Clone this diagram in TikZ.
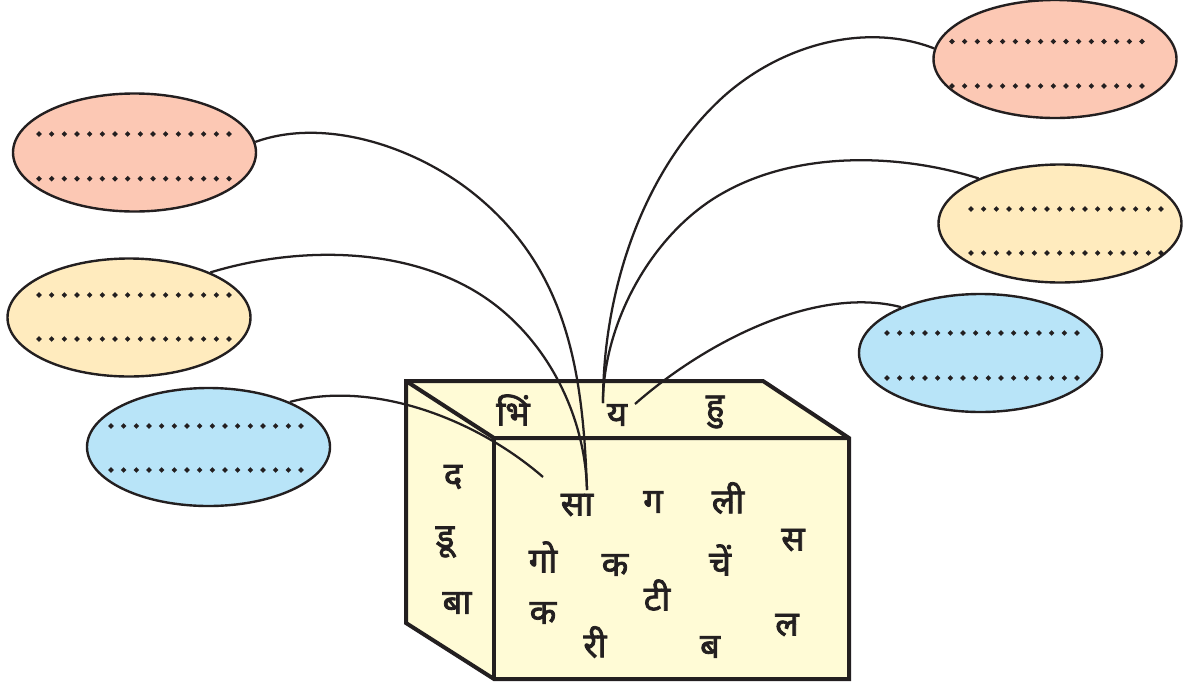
\documentclass[tikz,border=0pt]{standalone}
\usepackage{fontspec}
\newfontfamily\deva[Script=Devanagari, FakeBold=2.2]{Noto Sans}
\usetikzlibrary{shapes.geometric}
\definecolor{salmon}{HTML}{FCC8B4}
\definecolor{cream}{HTML}{FFEBBE}
\definecolor{sky}{HTML}{B8E4F8}
\definecolor{boxfill}{HTML}{FFFBD6}
\definecolor{ink}{HTML}{231F20}
\tikzset{
  bubble/.style={ellipse, draw=ink, line width=1.8pt, minimum width=182.25pt, minimum height=88.5pt, inner sep=0pt},
  boxline/.style={draw=ink, line width=3pt, line join=miter},
  link/.style={draw=ink, line width=1.7pt},
  letter/.style={font=\deva\fontsize{26}{26}\selectfont, text=ink, inner sep=0pt},
}
\newcommand\dotrow[2]{\foreach \i in {0,...,15}{\fill[ink] ({#1+12.667*\i},#2) +(-2.8,0) -- +(0,-2.8) -- +(2.8,0) -- +(0,2.8) -- cycle;}}
\begin{document}
\begin{tikzpicture}[x=0.75pt,y=-0.75pt]
\useasboundingbox (0,0) rectangle (1192,686);
% ellipses
\node[bubble, fill=salmon] (l1) at (134.5,152.5) {};
\node[bubble, fill=cream] (l2) at (129,317.5) {};
\node[bubble, fill=sky] (l3) at (208.5,447) {};
\node[bubble, fill=salmon] (r1) at (1055,59) {};
\node[bubble, fill=cream] (r2) at (1060,223.5) {};
\node[bubble, fill=sky] (r3) at (980.5,353) {};
\dotrow{39}{134}\dotrow{39}{178.7}
\dotrow{39}{295}\dotrow{39}{339}
\dotrow{111}{426}\dotrow{111}{470}
\dotrow{952}{41.5}\dotrow{952}{86}
\dotrow{971}{209}\dotrow{971}{253}
\dotrow{887}{333}\dotrow{887}{378}
% box
\fill[boxfill] (406,381) -- (763,381) -- (849,438) -- (849,679) -- (494,679) -- (406,623) -- cycle;
\draw[boxline] (406,381) -- (763,381) -- (849,438) -- (849,679) -- (494,679) -- (406,623) -- cycle;
\draw[boxline] (406,381) -- (494,438) -- (849,438);
\draw[boxline] (494,438) -- (494,679);
% end points
\coordinate (sa) at (587,490);
\coordinate (ya) at (603,403);
\coordinate (yb) at (635,404);
\coordinate (dl) at (543,477);
% connectors
\draw[link] (l1.5) .. controls (324,117) and (414,146) .. (473,193)
  .. controls (567,268) and (583,370) .. (sa);
\draw[link] (l2.29) .. controls (294,247) and (397,246) .. (473,290)
  .. controls (542,330) and (585,410) .. (sa);
\draw[link] (l3.29) .. controls (372,380) and (475,418) .. (dl);
\draw[link] (r1.175) .. controls (866,22) and (782,44) .. (723,97)
  .. controls (642,171) and (603,292) .. (ya);
\draw[link] (r2.151) .. controls (898,153) and (797,151) .. (723,193)
  .. controls (653,232) and (603,322) .. (ya);
\draw[link] (r3.150) .. controls (815,285) and (704,343) .. (yb);
% letters
\node[letter] (t1) at (513,410) {भिं};
\node[letter] (t2) at (617,415) {य};
\node[letter] (t3) at (715,412) {हु};
\node[letter] (s1) at (453,477) {द};
\node[letter] (s2) at (445,542) {डू};
\node[letter] (s3) at (457,603) {बा};
\node[letter] (f1) at (577,505) {सा};
\node[letter] (f2) at (653,502) {ग};
\node[letter] (f3) at (728,498) {ली};
\node[letter] (f4) at (793,540) {स};
\node[letter] (f5) at (543,557) {गो};
\node[letter] (f6) at (615,565) {क};
\node[letter] (f7) at (720,560) {चें};
\node[letter] (f8) at (657,595) {टी};
\node[letter] (f9) at (543,613) {क};
\node[letter] (f10) at (595,642) {री};
\node[letter] (f11) at (710,647) {ब};
\node[letter] (f12) at (787,625) {ल};
\end{tikzpicture}
\end{document}
